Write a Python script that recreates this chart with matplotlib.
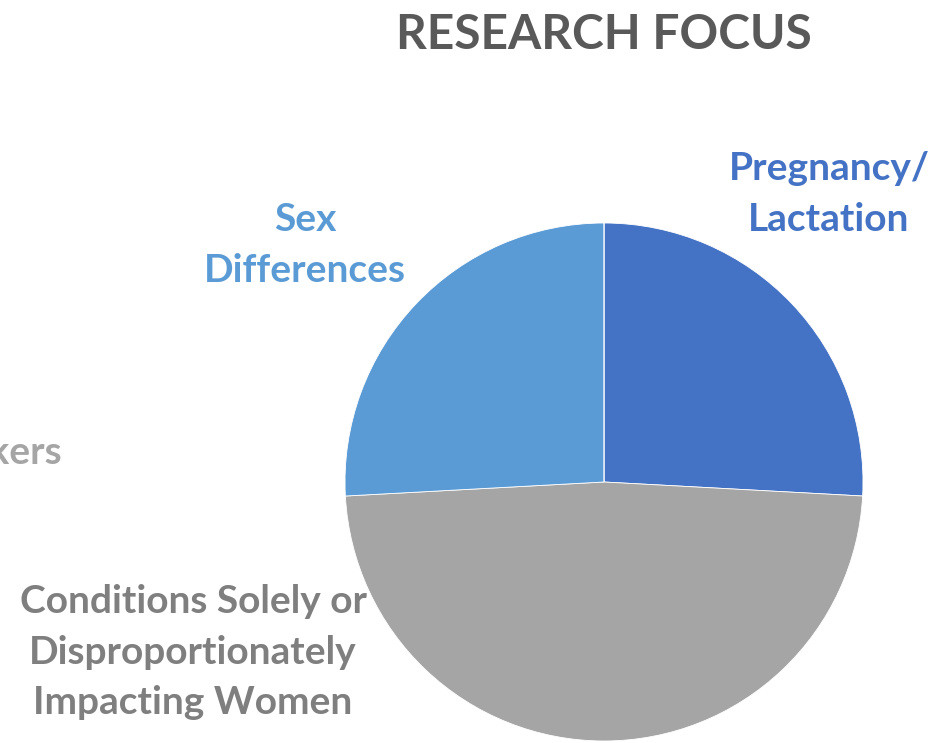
import numpy as np
import matplotlib.pyplot as plt

# --- Datos ---
categorias = ['Pregnancy/\nLactation', 'Conditions Solely or\nDisproportionately\nImpacting Women',
              'Sex\nDifferences', 'Biomarkers']
valores = [15, 28, 15, 0]
colores = ['#4472C4', '#A5A5A5', '#5B9BD5', '#FFC000']
colores_texto = ['#4472C4', '#7F7F7F', '#5B9BD5', '#A5A5A5']

plt.rcParams['font.family'] = ['Lato', 'DejaVu Sans']

fig = plt.figure(figsize=(9.35, 7.43), dpi=100)
W, H = 935, 743

# --- Pastel (centro y radio en pixeles) ---
cx, cy, r = 604, 482, 259
ax = fig.add_axes([(cx - r) / W, (H - cy - r) / H, 2 * r / W, 2 * r / H])
ax.pie(valores, colors=colores, startangle=90, counterclock=False, radius=1,
       wedgeprops=dict(edgecolor='white', linewidth=0.6))
ax.set_xlim(-1, 1)
ax.set_ylim(-1, 1)
ax.set_aspect('equal')
ax.axis('off')

# --- Titulo ---
fig.text(604 / W, 1 - 35 / H, 'RESEARCH FOCUS', ha='center', va='center',
         fontsize=34.5, fontweight='bold', color='#595959')

# --- Etiquetas ---
pos_etiquetas = [(829, 194, 'center'), (193, 652, 'center'), (305, 245, 'center'), (63, 452, 'right')]
for cat, col, (x, y, ha) in zip(categorias, colores_texto, pos_etiquetas):
    fig.text(x / W, 1 - y / H, cat, ha=ha, va='center', multialignment='center',
             fontsize=28, fontweight='bold', color=col, linespacing=1.52)

fig.savefig('out.png', dpi=100, facecolor='white')
